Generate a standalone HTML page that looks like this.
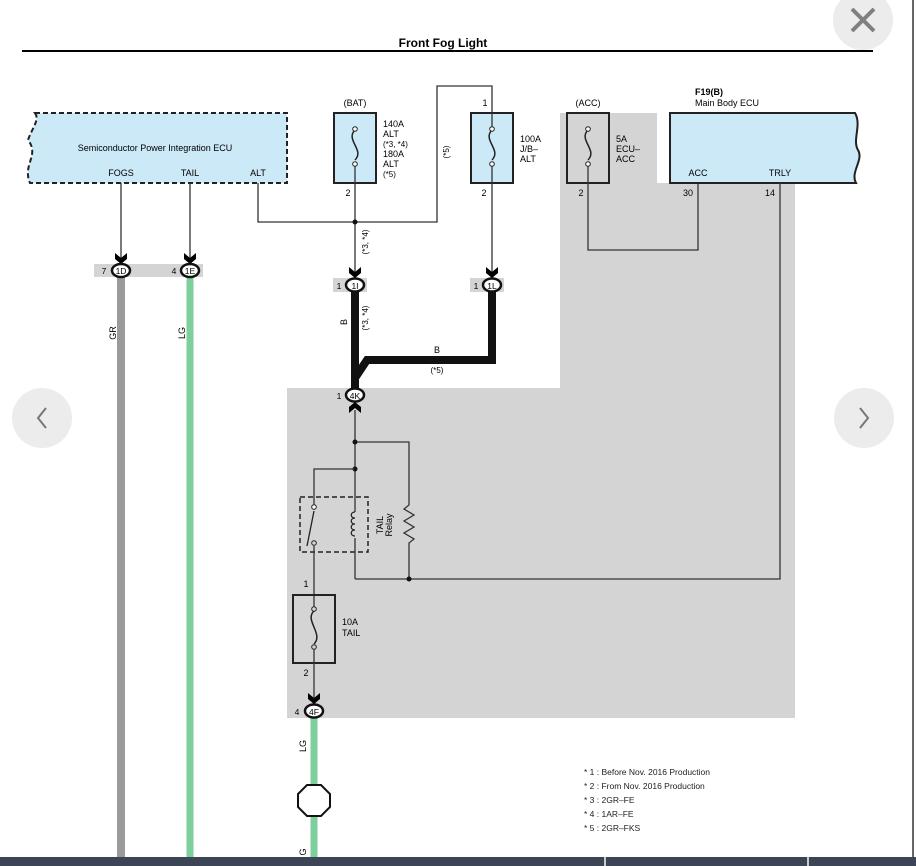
<!DOCTYPE html>
<html><head><meta charset="utf-8"><style>
html,body{margin:0;padding:0;background:#fff;}
svg{display:block;font-family:"Liberation Sans",sans-serif;}
</style></head><body>
<svg width="916" height="866" viewBox="0 0 916 866" xmlns="http://www.w3.org/2000/svg">
<defs>
<path id="arr" d="M-6,-11 L0,-6 L6,-11 L6,-5 L0,0 L-6,-5 Z" fill="#000"/>
</defs>
<rect width="916" height="866" fill="#fff"/>
<path d="M560,113 H657 V183 H795 V718 H287 V388 H560 Z" fill="#d4d4d4"/>
<text x="443" y="47" font-size="12" font-weight="bold" text-anchor="middle">Front Fog Light</text>
<line x1="22" y1="51" x2="873" y2="51" stroke="#000" stroke-width="2"/>
<circle cx="863" cy="20" r="30" fill="#ececec"/>
<path d="M852,9 L874,31 M874,9 L852,31" stroke="#808080" stroke-width="4"/>
<circle cx="42" cy="418" r="30" fill="#ececec"/>
<path d="M46,408 L38,418 L46,428" stroke="#777" stroke-width="2" fill="none"/>
<circle cx="864" cy="418" r="30" fill="#ececec"/>
<path d="M860,408 L868,418 L860,428" stroke="#777" stroke-width="2" fill="none"/>

<path d="M35,113 H287 V183 H30 C22,165 40,155 28,140 C32,128 40,120 35,113 Z" fill="#cce9f8" stroke="#222" stroke-width="2" stroke-dasharray="5,3"/>
<text x="155" y="151" font-size="9" text-anchor="middle">Semiconductor Power Integration ECU</text>
<text x="121" y="176" font-size="9" text-anchor="middle">FOGS</text>
<text x="190" y="176" font-size="9" text-anchor="middle">TAIL</text>
<text x="258" y="176" font-size="9" text-anchor="middle">ALT</text>
<line x1="121" y1="183" x2="121" y2="262" stroke="#333" stroke-width="1.3"/>
<line x1="190" y1="183" x2="190" y2="262" stroke="#333" stroke-width="1.3"/>
<use href="#arr" x="121" y="264"/><use href="#arr" x="190" y="264"/>
<rect x="94" y="264" width="109" height="13" fill="#d4d4d4"/>
<line x1="121" y1="277" x2="121" y2="866" stroke="#9a9a9a" stroke-width="8"/>
<line x1="190" y1="277" x2="190" y2="866" stroke="#7dcf9c" stroke-width="7"/>
<ellipse cx="121" cy="270.5" rx="9" ry="6.5" fill="#fff" stroke="#111" stroke-width="2.5"/>
<ellipse cx="190" cy="270.5" rx="9" ry="6.5" fill="#fff" stroke="#111" stroke-width="2.5"/>
<g font-size="8.5" text-anchor="middle">
<text x="121" y="274">1D</text><text x="190" y="274">1E</text>
<text x="104" y="274">7</text><text x="174" y="274">4</text>
</g>
<text transform="translate(116,333) rotate(-90)" font-size="9" text-anchor="middle">GR</text>
<text transform="translate(185,333) rotate(-90)" font-size="9" text-anchor="middle">LG</text>

<path d="M258,183 V222 H437 V86 H492 V113" fill="none" stroke="#333" stroke-width="1.3"/>
<text transform="translate(449,152) rotate(-90)" font-size="8" text-anchor="middle">(*5)</text>

<text x="355" y="106" font-size="9" text-anchor="middle">(BAT)</text>
<rect x="334" y="113" width="42" height="70" fill="#cce9f8" stroke="#222" stroke-width="2"/>
<path d="M355,130 C345,140 365,150 355,160" fill="none" stroke="#222" stroke-width="1.5"/>
<circle cx="355" cy="129" r="2.3" fill="#fff" stroke="#222"/><circle cx="355" cy="164" r="2.3" fill="#fff" stroke="#222"/>
<g font-size="9"><text x="383" y="127">140A</text><text x="383" y="137">ALT</text><text x="383" y="147" font-size="8">(*3, *4)</text><text x="383" y="157">180A</text><text x="383" y="167">ALT</text><text x="383" y="177" font-size="8">(*5)</text></g>
<text x="348" y="196" font-size="9" text-anchor="middle">2</text>
<line x1="355" y1="166" x2="355" y2="278" stroke="#333" stroke-width="1.3"/>
<circle cx="355" cy="222" r="2.5" fill="#111"/>
<text transform="translate(368,242) rotate(-90)" font-size="8" text-anchor="middle">(*3, *4)</text>
<use href="#arr" x="355" y="278"/>

<text x="485" y="106" font-size="9" text-anchor="middle">1</text>
<rect x="471" y="113" width="42" height="70" fill="#cce9f8" stroke="#222" stroke-width="2"/>
<line x1="492" y1="113" x2="492" y2="130" stroke="#333" stroke-width="1.3"/>
<path d="M492,130 C482,140 502,150 492,160" fill="none" stroke="#222" stroke-width="1.5"/>
<circle cx="492" cy="129" r="2.3" fill="#fff" stroke="#222"/><circle cx="492" cy="164" r="2.3" fill="#fff" stroke="#222"/>
<g font-size="9"><text x="520" y="142">100A</text><text x="520" y="152">J/B–</text><text x="520" y="162">ALT</text></g>
<text x="484" y="196" font-size="9" text-anchor="middle">2</text>
<line x1="492" y1="166" x2="492" y2="278" stroke="#333" stroke-width="1.3"/>
<use href="#arr" x="492" y="278"/>

<rect x="333" y="278" width="34" height="14" fill="#d4d4d4"/>
<rect x="470" y="278" width="34" height="14" fill="#d4d4d4"/>
<path d="M355,292 V390 M492,292 V360 H367 L355,378" fill="none" stroke="#111" stroke-width="8"/>
<ellipse cx="355" cy="285" rx="9" ry="6.5" fill="#fff" stroke="#111" stroke-width="2.5"/>
<ellipse cx="492" cy="285" rx="9" ry="6.5" fill="#fff" stroke="#111" stroke-width="2.5"/>
<g font-size="8.5" text-anchor="middle"><text x="355" y="289">1I</text><text x="492" y="289">1L</text><text x="339" y="289">1</text><text x="476" y="289">1</text></g>
<text transform="translate(347,322) rotate(-90)" font-size="9" text-anchor="middle">B</text>
<text transform="translate(368,318) rotate(-90)" font-size="8" text-anchor="middle">(*3, *4)</text>
<text x="437" y="353" font-size="9" text-anchor="middle">B</text>
<text x="437" y="373" font-size="8" text-anchor="middle">(*5)</text>

<text x="588" y="106" font-size="9" text-anchor="middle">(ACC)</text>
<rect x="567" y="113" width="42" height="70" fill="#d4d4d4" stroke="#222" stroke-width="2"/>
<path d="M588,130 C578,140 598,150 588,160" fill="none" stroke="#222" stroke-width="1.5"/>
<circle cx="588" cy="129" r="2.3" fill="#fff" stroke="#222"/><circle cx="588" cy="164" r="2.3" fill="#fff" stroke="#222"/>
<g font-size="9"><text x="616" y="142">5A</text><text x="616" y="152">ECU–</text><text x="616" y="162">ACC</text></g>
<text x="581" y="196" font-size="9" text-anchor="middle">2</text>
<path d="M588,166 V250 H698 V183" fill="none" stroke="#333" stroke-width="1.3"/>

<text x="695" y="95" font-size="9" font-weight="bold">F19(B)</text>
<text x="695" y="106" font-size="9">Main Body ECU</text>
<path d="M670,113 H855 C862,125 852,140 858,150 C864,160 850,172 856,183 H670 Z" fill="#cce9f8" stroke="#222" stroke-width="2"/>
<text x="698" y="176" font-size="9" text-anchor="middle">ACC</text>
<text x="780" y="176" font-size="9" text-anchor="middle">TRLY</text>
<text x="688" y="196" font-size="9" text-anchor="middle">30</text>
<text x="770" y="196" font-size="9" text-anchor="middle">14</text>
<path d="M780,183 V579 H355" fill="none" stroke="#333" stroke-width="1.3"/>

<ellipse cx="355" cy="395" rx="9" ry="6.5" fill="#fff" stroke="#111" stroke-width="2.5"/>
<text x="355" y="399" font-size="8.5" text-anchor="middle">4K</text>
<text x="339" y="399" font-size="8.5" text-anchor="middle">1</text>
<path d="M349,413 L355,408 L361,413 L361,407 L355,402 L349,407 Z" fill="#000"/>
<line x1="355" y1="410" x2="355" y2="579" stroke="#333" stroke-width="1.3"/>
<path d="M355,442 H409 V505 L404,509 L414,515 L404,521 L414,527 L404,533 L414,539 L409,543 V579" fill="none" stroke="#333" stroke-width="1.3"/>
<circle cx="355" cy="442" r="2.5" fill="#111"/><circle cx="409" cy="579" r="2.5" fill="#111"/>
<circle cx="355" cy="469" r="2.5" fill="#111"/>
<path d="M355,469 H314 V505" fill="none" stroke="#333" stroke-width="1.3"/>
<rect x="300" y="497" width="68" height="55" fill="none" stroke="#222" stroke-width="1.5" stroke-dasharray="5,3"/>
<circle cx="314" cy="507" r="2.3" fill="#fff" stroke="#222"/>
<circle cx="314" cy="543" r="2.3" fill="#d4d4d4" stroke="#222"/>
<line x1="307" y1="546" x2="314" y2="511" stroke="#222" stroke-width="1.3"/>
<rect x="351" y="512" width="8" height="26" fill="#d4d4d4"/>
<path d="M355,512 C350,512 350,518 355,518 C350,518 350,524 355,524 C350,524 350,530 355,530 C350,530 350,536 355,536" fill="none" stroke="#222" stroke-width="1.3"/>
<text transform="translate(383,525) rotate(-90)" font-size="9" text-anchor="middle">TAIL</text>
<text transform="translate(392,525) rotate(-90)" font-size="9" text-anchor="middle">Relay</text>
<line x1="314" y1="546" x2="314" y2="608" stroke="#333" stroke-width="1.3"/>

<text x="306" y="587" font-size="9" text-anchor="middle">1</text>
<rect x="293" y="595" width="42" height="68" fill="none" stroke="#222" stroke-width="2"/>
<path d="M314,611 C304,620 324,634 314,644" fill="none" stroke="#222" stroke-width="1.5"/>
<circle cx="314" cy="609" r="2.3" fill="#d4d4d4" stroke="#222"/><circle cx="314" cy="647" r="2.3" fill="#d4d4d4" stroke="#222"/>
<text x="342" y="625" font-size="9">10A</text><text x="342" y="636" font-size="9">TAIL</text>
<text x="306" y="676" font-size="9" text-anchor="middle">2</text>
<line x1="314" y1="649" x2="314" y2="704" stroke="#333" stroke-width="1.3"/>
<use href="#arr" x="314" y="704"/>
<line x1="314" y1="718" x2="314" y2="866" stroke="#7dcf9c" stroke-width="7"/>
<ellipse cx="314" cy="711" rx="9" ry="6.5" fill="#fff" stroke="#111" stroke-width="2.5"/>
<text x="314" y="715" font-size="8.5" text-anchor="middle">4F</text>
<text x="297" y="715" font-size="8.5" text-anchor="middle">4</text>
<text transform="translate(306,746) rotate(-90)" font-size="9" text-anchor="middle">LG</text>
<polygon points="307,785 321,785 330,794 330,807 321,816 307,816 298,807 298,794" fill="#fff" stroke="#111" stroke-width="2"/>
<text transform="translate(306,852) rotate(-90)" font-size="9" text-anchor="middle">G</text>

<g font-size="8.5" fill="#222">
<text x="584" y="775">* 1 : Before Nov.  2016 Production</text>
<text x="584" y="789">* 2 : From Nov.  2016 Production</text>
<text x="584" y="803">* 3 : 2GR–FE</text>
<text x="584" y="817">* 4 : 1AR–FE</text>
<text x="584" y="831">* 5 : 2GR–FKS</text>
</g>
<line x1="913" y1="0" x2="913" y2="866" stroke="#333" stroke-width="1.5"/>
<rect x="0" y="857" width="916" height="9" fill="#3b4556"/>
<rect x="604" y="857" width="2" height="9" fill="#ccc"/>
<rect x="807" y="857" width="2" height="9" fill="#ccc"/>
</svg>
</body></html>
